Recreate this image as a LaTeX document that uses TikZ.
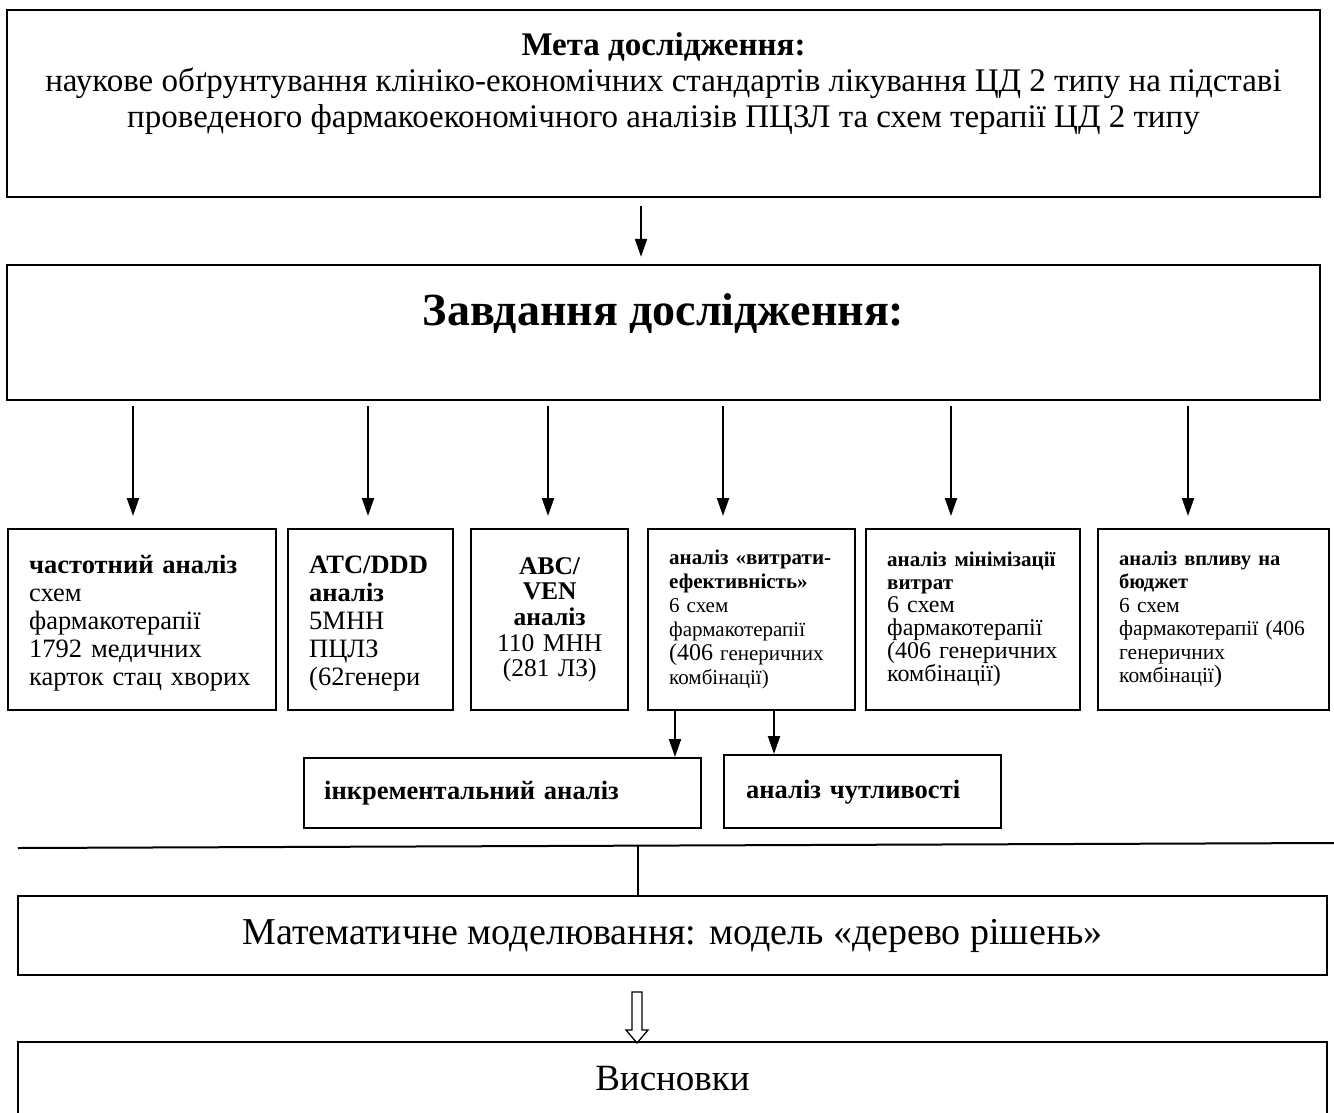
\documentclass[tikz,border=0pt]{standalone}
\usepackage{fontspec}
\setmainfont{Liberation Serif}
\usetikzlibrary{positioning,arrows.meta}

\tikzset{
  box/.style={draw, line width=2.4pt, inner sep=0pt},
  bigbox/.style={box, minimum width=1313pt},
  smallbox/.style={box, anchor=north west, minimum height=181pt, align=left,
    inner xsep=21pt, font=\fontsize{26.5}{28}\selectfont},
  arr/.style={line width=2pt, -{Triangle[length=18pt,width=12pt]}},
}

\begin{document}
\begin{tikzpicture}[x=1pt, y=-1pt]
  \useasboundingbox (0,0) rectangle (1334,1112);

  % мета
  \node[bigbox, minimum height=187pt] (goal) at (663.5,103.5) {};
  \node[below=24pt of goal.north, inner sep=0pt, align=center,
    font=\fontsize{33}{36}\selectfont] (goaltext)
    {\textbf{Мета дослідження:}\\
     наукове обґрунтування клініко-економічних стандартів лікування ЦД 2 типу на підставі\\
     проведеного фармакоекономічного аналізів ПЦЗЛ та схем терапії ЦД 2 типу};

  % завдання
  \node[bigbox, minimum height=135pt] (task) at (663.5,332.5) {};
  \node[below=30pt of task.north, inner sep=0pt,
    font=\fontsize{46}{50}\selectfont\bfseries] (tasktext) {Завдання дослідження:};
  \draw[arr, shorten <=8pt, shorten >=7pt] (goal.south -| 641,0) -- (task.north -| 641,0);

  % аналізи
  \node[smallbox, minimum width=268pt, text width=226pt] (freq) at (7,528)
    {\rule{0pt}{26pt}\textbf{частотний аналіз}\\схем\\фармакотерапії\\1792 медичних\\карток стац хворих};
  \node[smallbox, minimum width=165pt, text width=123pt] (atc) at (287,528)
    {\rule{0pt}{26pt}\textbf{ATC/DDD}\\\textbf{аналіз}\\5МНН\\ПЦЛЗ\\(62генери};
  \node[smallbox, minimum width=157pt, text width=115pt, align=center,
    font=\fontsize{25.5}{25.7}\selectfont] (abc) at (470,528)
    {\textbf{ABC/}\\\textbf{VEN}\\\textbf{аналіз}\\110 МНН\\(281 ЛЗ)\\[10pt]};
  \node[smallbox, minimum width=207pt, text width=165pt,
    font=\fontsize{21}{24}\selectfont] (cea) at (647,528)
    {\textbf{аналіз «витрати-}\\\textbf{ефективність»}\\ 6 схем\\фармакотерапії\\{\fontsize{24}{24}\selectfont(406} генеричних\\комбінації)};
  \node[smallbox, minimum width=214pt, text width=172pt,
    font=\fontsize{24}{23}\selectfont] (cma) at (865,528)
    {{\fontsize{21}{23}\selectfont\textbf{аналіз мінімізації}}\\{\fontsize{21}{23}\selectfont\textbf{витрат}}\\6 схем\\фармакотерапії\\(406 генеричних\\комбінації)};
  \node[smallbox, minimum width=231pt, text width=189pt,
    font=\fontsize{21.5}{23.5}\selectfont] (bia) at (1097,528)
    {{\fontsize{20.5}{23}\selectfont\textbf{аналіз впливу на}}\\{\fontsize{20.5}{23}\selectfont\textbf{бюджет}}\\6 схем\\\mbox{фармакотерапії (406}\\генеричних\\комбінації{\fontsize{25}{23}\selectfont)}};

  \foreach \n/\x in {freq/133, atc/368, abc/548, cea/723, cma/951, bia/1188}
    \draw[arr, shorten <=5pt, shorten >=12pt] (task.south -| \x,0) -- (\n.north -| \x,0);

  % інкрементальний і чутливість
  \node[box, anchor=north west, minimum width=397pt, minimum height=70pt,
    text width=357pt, inner xsep=20pt, align=left,
    font=\fontsize{26.5}{28}\selectfont\bfseries] (incr) at (303,757) {інкрементальний аналіз\\[22pt]};
  \node[box, anchor=north west, minimum width=277pt, minimum height=73pt,
    text width=233pt, inner xsep=22pt, align=left,
    font=\fontsize{26.5}{28}\selectfont\bfseries] (sens) at (723,754) {аналіз чутливості\\[32pt]};
  \draw[arr] (cea.south -| 675,0) -- (incr.north -| 675,0);
  \draw[arr] (cea.south -| 774,0) -- (sens.north -| 774,0);

  % лінія
  \coordinate (rulew) at (18,848);
  \coordinate (rulee) at (1334,843);
  \coordinate (join) at (638,845.6);
  \draw[line width=2pt] (rulew) -- (rulee);

  % моделювання
  \node[box, minimum width=1309pt, minimum height=79pt,
    font=\fontsize{38}{44}\selectfont] (model) at (672.5,935.5)
    {Математичне моделювання: модель «дерево рішень»};
  \draw[line width=2pt] (join) -- (join |- model.north);

  % висновки
  \node[box, minimum width=1309pt, minimum height=73pt,
    font=\fontsize{37}{44}\selectfont] (concl) at (672.5,1078.5) {Висновки\\[6pt]};
  \draw[line width=1.3pt, line join=miter]
    (632,992) -- (642,992) -- (642,1030) -- (648,1030) -- (637,1043)
    -- (626,1030) -- (632,1030) -- cycle;
\end{tikzpicture}
\end{document}
